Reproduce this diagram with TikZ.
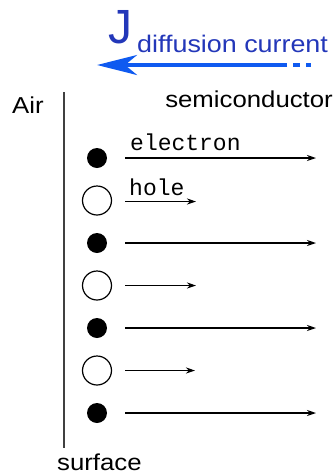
\documentclass[tikz,border=0pt]{standalone}
\usepackage{fontspec}
\setmainfont{Liberation Sans}
\newfontfamily\widesans[FakeStretch=1.12]{Liberation Sans}
\newfontfamily\monoser{Liberation Mono}
\usetikzlibrary{arrows.meta}
\definecolor{jtext}{RGB}{35,55,185}
\definecolor{jarrow}{RGB}{15,90,240}
\begin{document}
\begin{tikzpicture}[x=1pt,y=-1pt,
  lbl/.style={inner sep=0pt,anchor=base west,font=\widesans\fontsize{23}{26}\selectfont},
  captxt/.style={inner sep=0pt,anchor=base west,font=\monoser\fontsize{23}{26}\selectfont},
  elec/.style={circle,fill=black,inner sep=0pt,minimum size=20pt},
  holec/.style={circle,draw=black,line width=1.2pt,fill=white,inner sep=0pt,minimum size=29pt},
  mv/.style={line width=1.3pt,-{Stealth[length=9pt,width=6pt]}},
  jline/.style={jarrow,line width=4pt}]
\useasboundingbox (0,0) rectangle (335,475);
% current label and arrow
\node[inner sep=0pt,anchor=base west,text=jtext,font=\fontsize{48}{50}\selectfont] (J) at (108,43) {J};
\node[lbl,text=jtext,font=\widesans\fontsize{24}{26}\selectfont] (dc) at (137,52) {diffusion current};
\coordinate (jb) at (287,65);
\coordinate (jt) at (97,65);
\coordinate (d1a) at (293,65);
\coordinate (d1b) at (300,65);
\coordinate (d2a) at (306,65);
\coordinate (d2b) at (311,65);
\draw[jline,-{Stealth[length=40pt,width=20pt,inset=12pt]}] (jb) -- (jt);
\draw[jline] (d1a) -- (d1b);
\draw[jline] (d2a) -- (d2b);
% labels
\node[lbl] (air) at (12,113) {Air};
\node[lbl,anchor=base east] (semi) at (333,107) {semiconductor};
\node[lbl] (surf) at (57,470) {surface};
% surface line
\coordinate (st) at (64,92);
\coordinate (sb) at (64,448);
\draw[line width=1.4pt,black!75] (st) -- (sb);
% particles
\node[elec] (p1) at (97,158) {};
\node[holec] (p2) at (97,200.5) {};
\node[elec] (p3) at (97,243) {};
\node[holec] (p4) at (97,285.5) {};
\node[elec] (p5) at (97,328) {};
\node[holec] (p6) at (97,370.5) {};
\node[elec] (p7) at (97,413) {};
% arrows
\foreach \i/\y/\e in {1/158/316,2/201.5/196,3/243/316,4/285.5/196,5/328/316,6/370.5/195,7/413/316}{
  \coordinate (s\i) at (125,\y);
  \coordinate (e\i) at (\e,\y);
  \draw[mv] (s\i) -- (e\i);
}
\node[captxt] (el) at (130,150) {electron};
\node[captxt] (ho) at (129,195) {hole};
\end{tikzpicture}
\end{document}
